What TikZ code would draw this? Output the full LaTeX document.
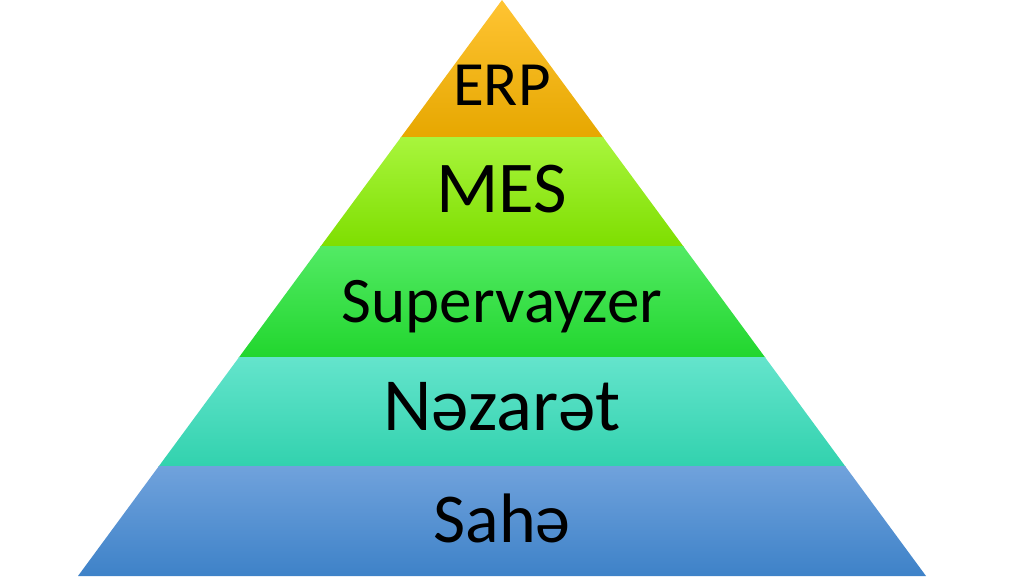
\documentclass[tikz,border=0pt]{standalone}
\usepackage{fontspec}
\setmainfont{Carlito}
\usepackage{tikz}

\definecolor{erpTop}{HTML}{FFC433}
\definecolor{erpBot}{HTML}{E6A700}
\definecolor{mesTop}{HTML}{A8F53C}
\definecolor{mesBot}{HTML}{7EDE00}
\definecolor{supTop}{HTML}{52EA64}
\definecolor{supBot}{HTML}{22D62E}
\definecolor{nazTop}{HTML}{64E4CC}
\definecolor{nazBot}{HTML}{32D2AE}
\definecolor{sahTop}{HTML}{70A2DC}
\definecolor{sahBot}{HTML}{3E82C8}

\begin{document}
\begin{tikzpicture}[x=1pt,y=1pt]

  \useasboundingbox (0,0) rectangle (1024,576);

  \coordinate (T)  at (502,576);
  \coordinate (BL) at (78,0);
  \coordinate (BR) at (926,0);

  % node styles
  \tikzstyle{Label}=[
  anchor=base,
  inner sep=0pt,
  text=black]

  % layers, clipped to the pyramid
  \begin{scope}
    \clip (T) -- (BR) -- (BL) -- cycle;
    \shade[top color=erpTop,bottom color=erpBot] (0,438) rectangle (1024,576);
    \shade[top color=mesTop,bottom color=mesBot] (0,329) rectangle (1024,438);
    \shade[top color=supTop,bottom color=supBot] (0,219) rectangle (1024,329);
    \shade[top color=nazTop,bottom color=nazBot] (0,110) rectangle (1024,219);
    \shade[top color=sahTop,bottom color=sahBot] (0,0)   rectangle (1024,110);
  \end{scope}

  \node[Label,font=\fontsize{63}{63}\selectfont] (L1) at (502,470) {ERP};
  \node[Label,font=\fontsize{73}{73}\selectfont] (L2) at (502,363) {MES};
  \node[Label,font=\fontsize{65}{65}\selectfont] (L3) at (502,254) {Supervayzer};
  \node[Label,font=\fontsize{75}{75}\selectfont] (L4) at (502,146) {Nəzarət};
  \node[Label,font=\fontsize{70}{70}\selectfont] (L5) at (502,34)  {Sahə};

\end{tikzpicture}
\end{document}
